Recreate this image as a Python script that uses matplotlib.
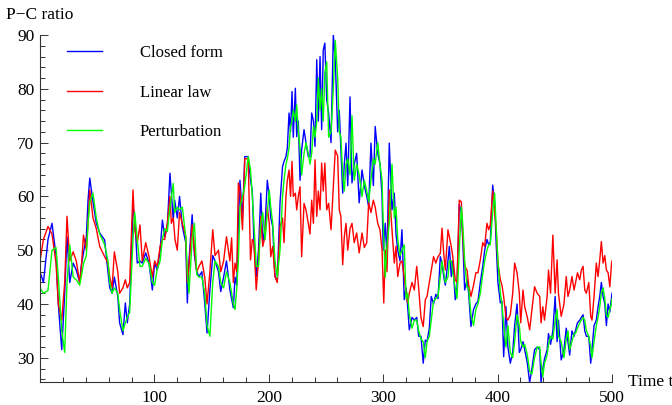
import numpy as np
import matplotlib
matplotlib.use('Agg')
import matplotlib.pyplot as plt
import matplotlib.ticker as ticker

# time samples for the closed form and perturbation curves
t_cf = [0, 3, 7, 10.5, 14, 16, 19, 21.6, 23.6, 26, 29, 31.7, 34.7, 36, 38, 40.5, 42, 43.5, 46.3, 49.2,
        52.2, 56.5, 59.4, 61, 63, 65, 68, 69.6, 72.5, 74.6, 76.3, 78.4, 81.3, 82.8, 85, 87.4, 89.4, 92.4, 95.3, 98.2,
        100.2, 102.5, 105, 107, 109, 111.3, 113.6, 116.5, 117.7, 120, 122, 124.4, 127.4, 128.8, 130.2, 133, 135, 137, 139, 141.5,
        144, 146, 148.5, 151, 153, 156, 158, 160.5, 163, 166, 169, 170.5, 172, 173.4, 174.8, 177, 179, 182, 184, 185.6,
        187, 189, 191, 193, 194.7, 196.7, 198.7, 200.4, 201.7, 203.4, 205.4, 207.4, 209.8, 212, 213.3, 215, 216.2, 217.7, 219, 220.3,
        221.4, 223.2, 224.4, 225.8, 227.3, 228.7, 230.8, 232.5, 234.5, 236, 237.5, 239, 240.4, 241.9, 243.3, 244.8, 246.2, 247.6, 249, 250.6,
        252.3, 254.4, 256.4, 258.1, 260.2, 261.6, 263, 264.6, 266, 267.5, 269, 271, 272.7, 274.7, 276.8, 279, 281.5, 283.5, 285.6, 287.3,
        289.3, 291.4, 293, 295.2, 297.2, 299, 300, 301.8, 303.3, 305.3, 307.7, 309.7, 311.2, 312.7, 314.7, 316.4, 318.4, 320, 321.4, 322.8,
        325.2, 327.2, 329.3, 331, 333, 335, 336.8, 338.3, 340.3, 342, 344, 346, 347.9, 349.9, 351.4, 352.9, 354.3, 356.6, 357.8, 359.5,
        360.7, 363, 364.5, 366.5, 368.3, 369.5, 371.2, 373.3, 374.7, 376.7, 379, 381, 382.8, 384.9, 387, 388.7, 390.7, 392.2, 393.6, 395.7,
        397.4, 398.6, 400.3, 402.4, 403.8, 405.3, 407.3, 409, 411.1, 413.2, 414.9, 417, 419, 420.2, 422.2, 423.7, 426, 428, 430, 432.3,
        434.6, 436.8, 438, 439.5, 441, 443.3, 444.5, 446.3, 448.3, 450.3, 452, 453.2, 455.6, 458, 460, 461.5, 463, 465, 466.8, 468,
        469.8, 471.8, 473.2, 474.7, 476.2, 477.6, 479.7, 481.4, 482.5, 484.3, 486.3, 487.8, 489.3, 490.7, 492.2, 493.7, 495.1, 496.6, 498.1, 499.6,
        500]

closed_form = [46, 44, 52, 55, 49, 40, 31.5, 42, 52.5, 44, 47.6, 46.3, 44, 47, 49.5, 52.5, 59.3, 63.4, 59, 55,
               53.2, 51.9, 46, 43, 42, 45, 41.4, 36.5, 34.3, 40.2, 36.5, 40, 58, 56, 47.6, 48, 47.6, 49.5, 47.6, 42.6,
               47.6, 46.3, 50, 55.6, 52.5, 54.4, 64.3, 55.6, 59.3, 56, 60, 54.4, 51.4, 40.2, 48, 56.6, 49, 46, 45.1, 46,
               40.2, 34.6, 42.6, 49, 48, 46, 42.3, 45, 48, 42.6, 39.3, 45, 43.5, 55, 63, 56, 67.4, 67.4, 63, 61,
               51.4, 45.1, 50, 60.6, 51.4, 54.4, 63, 60, 56, 54.4, 45.1, 44.2, 58.8, 65.5, 66.5, 67.4, 69, 75.5, 72, 79.5,
               71, 80.1, 71.1, 74, 63, 68.6, 72.4, 70, 67.4, 67.4, 75.5, 74, 69.3, 85.4, 74, 86, 72.4, 87.2, 88.5, 78,
               75.5, 70, 90, 85.5, 72, 76, 68.6, 60.6, 66, 69.9, 62, 78.5, 62.5, 66, 68, 58.8, 64.9, 62, 60, 58.1,
               69.9, 62, 73, 68, 66, 60, 50, 55, 48.5, 69.9, 57.5, 60.6, 53, 50, 48, 53.8, 40.8, 43, 39.5, 35.2,
               37.5, 37, 37.5, 34, 34, 29, 33.3, 33, 35.5, 41.4, 40, 41.8, 41, 48.8, 47.6, 45.1, 43.5, 48, 50.7, 45.1,
               48, 40.8, 43, 58.5, 57, 52, 42.6, 44.5, 42, 35.8, 39, 40, 40.5, 44, 47, 50, 52, 51, 51.5, 62.1,
               59, 52, 44, 40.2, 40.5, 30.2, 39.5, 32, 29, 31, 36, 40, 31, 31.5, 33, 31.5, 29, 25.4, 28, 31.5,
               32, 31.5, 25.4, 28, 29.8, 31.5, 34.5, 32.5, 35, 41.4, 33, 37, 29.6, 31.5, 35.5, 33, 30.5, 35, 34, 35,
               36.5, 37, 37.5, 38, 35, 34, 34, 29, 31.5, 36, 37, 39.5, 41.4, 44, 41.4, 40, 36, 40, 38.5, 41.4,
               42]

perturbation = [43, 42, 42.5, 50, 50.5, 45, 35, 31, 44, 51, 45, 44.5, 43.5, 45, 47.5, 49, 55, 59, 60.6, 56,
                53, 51, 48, 44, 42, 43, 42, 39, 35, 36.5, 37.5, 38.5, 52, 57, 52, 47, 47, 48.5, 47.5, 44,
                43.5, 46.5, 48, 52, 54, 53.5, 58, 62.4, 57, 58, 57.5, 58, 52.5, 46, 42, 52, 55, 45.5, 45, 45,
                42, 36, 34, 44, 48, 47, 44, 43, 46, 44, 40, 39, 43, 48, 58, 60, 62, 67.4, 65, 60,
                55, 47, 47, 55, 57, 52, 57, 61.2, 58, 55, 48, 45, 50, 60, 63, 66, 67, 69, 73, 74,
                76, 74, 77, 72, 69, 64, 68, 70, 68, 66, 68, 73, 71, 74, 82, 76, 80, 74, 83, 85,
                71, 72, 80, 89, 82, 72, 71, 64, 61, 66, 67, 64, 75, 63, 66, 64, 60, 63, 61, 59,
                63, 67, 66, 70, 66, 63, 55, 45, 51, 55, 66, 56, 58, 52, 49, 50, 51, 41, 42, 38,
                35.5, 37, 37, 35, 33.5, 33, 30, 33, 34, 37, 40.5, 41, 41.5, 45, 48, 46, 44, 45, 48, 48,
                46, 43, 41, 50, 58, 55, 48, 43, 43, 38, 36, 39, 40, 42, 45.5, 48, 50, 51, 51, 57,
                60.6, 55, 48, 42, 40, 36, 32, 36, 31, 30, 33, 38, 36, 33, 32, 32.5, 30.5, 27.5, 27, 30,
                32, 32, 29, 26.5, 29, 30.5, 32.5, 34, 33.5, 37, 39, 34, 33, 30, 33.5, 35, 31.5, 33, 34.5, 34.5,
                35.5, 36.5, 37, 37.5, 37, 35, 34, 32, 30, 33, 36, 37.5, 39.5, 42, 43, 41, 38, 37.5, 39, 40,
                41]

# time samples for the linear law curve
t_lin = [0, 3, 7, 10.5, 14, 16, 19, 21.6, 23.6, 26, 29, 31.7, 34.7, 36, 38, 40.5, 42, 43.5, 46.3, 49.2,
         52.2, 56.5, 59.4, 61, 63, 65, 68, 69.6, 72.5, 74.6, 76.3, 78.4, 81.3, 82.8, 85, 87.4, 89.4, 92.4, 95.3, 98.2,
         100.2, 102.5, 105, 107, 109, 111.3, 113.6, 114.8, 116.5, 118, 120, 122, 124.4, 127.4, 128.8, 130.2, 133, 135, 137, 139,
         141.5, 144, 146, 148.5, 151, 153, 156, 158, 160.5, 163, 166, 167.5, 169, 170.5, 172, 173.4, 174.8, 177, 179, 182,
         184, 185.6, 187, 189, 191, 193, 194.7, 196.7, 198.7, 200.4, 201.7, 203.4, 205.4, 207.4, 209.8, 212, 213.3, 215, 216.2, 217.7,
         219, 220.3, 221.4, 223.2, 224.4, 225.8, 227.3, 228.7, 230.8, 232.5, 234.5, 236, 237.5, 239, 240.4, 241.9, 243.3, 244.8, 246.2, 247.6,
         249, 250.6, 252.3, 254.4, 256.4, 258.1, 260.2, 261.6, 263, 264.6, 266, 267.5, 269, 271, 272.7, 274.7, 276.8, 279, 281.5, 283.5,
         285.6, 287.3, 289.3, 291.4, 293, 295.2, 297.2, 299, 300.5, 301.8, 303.3, 305.3, 307.7, 309.7, 311.2, 312.7, 314.7, 316.4, 318.4, 320,
         321.4, 322.8, 325.2, 327.2, 329.3, 331, 333, 335, 336.8, 338.3, 340.3, 342, 344, 346, 347.9, 349.9, 351.4, 352.9, 354.3, 356.6,
         359.5, 360.7, 363, 364.5, 366.5, 368.3, 369.5, 371.2, 373.3, 374.7, 376.7, 379, 381, 382.8, 384.9, 387, 388.7, 390.7, 392.2, 393.6,
         395.7, 397.4, 398.6, 400.3, 402.4, 403.8, 405.3, 407.3, 409, 411.1, 413.2, 414.9, 417, 419, 420.2, 422.2, 423.7, 426, 428, 430,
         432.3, 434.6, 436.8, 438, 439.5, 441, 443.3, 444.5, 446.3, 448.3, 450.3, 452, 453.2, 455.6, 458, 460, 461.5, 463, 465, 466.8,
         468, 469.8, 471.8, 473.2, 474.7, 476.2, 477.6, 479.7, 481.4, 482.5, 484.3, 486.3, 487.8, 489.3, 490.7, 492.2, 493.7, 495.1, 496.6, 498.1,
         499.6, 500]

linear_law = [48, 52, 54.4, 53, 47.6, 40, 37, 44, 56.3, 48, 49.7, 48, 44, 46.3, 52.8, 50, 55, 61.2, 56, 54,
              50.7, 48.8, 47.6, 45, 43, 49.7, 46, 42, 43, 44.5, 43, 44, 61.2, 54, 51.4, 54.7, 48, 51.4, 48.8, 45,
              48, 47, 50.7, 52, 52, 55, 60, 55, 56, 52, 50, 57, 55, 52.5, 44, 47, 54.7, 50, 46, 47,
              48, 45, 40, 46, 53.8, 49, 50, 46, 48, 52.5, 48, 52.3, 44, 47.6, 46, 62.5, 61, 53.8, 67, 67,
              48.2, 52, 51.4, 42.6, 48, 56.3, 50.7, 52.5, 58, 55, 48.8, 50.7, 45.1, 44, 54.4, 56, 51.4, 60, 63, 64.9,
              60, 66.5, 60, 60.6, 57.5, 60, 61.8, 48.8, 58.7, 57.5, 55, 53, 59.3, 55, 66.8, 56.3, 61, 57.5, 66.2, 61,
              66.2, 57.5, 58.7, 53.8, 62, 68.6, 67.5, 57.5, 56.3, 47.3, 52.5, 55, 50, 54, 55, 51.4, 53.2, 49.5, 53.2, 50.5,
              51.4, 58.8, 57, 59.3, 58, 55, 53.8, 50, 40.2, 50, 46, 61.2, 53.8, 47.6, 50.7, 45.1, 47.6, 48, 45, 42,
              40.2, 42, 44, 42.6, 47, 43, 37.5, 35.8, 40.8, 41.4, 44, 46.3, 48.8, 47.6, 48.8, 49.4, 54.1, 49.4, 46.3, 53.8,
              50.7, 49, 44.5, 44, 59.3, 59, 53, 47, 46.3, 43.5, 41.4, 43.5, 45.8, 45.8, 48.2, 51.4, 50.7, 55, 53.8, 54.7,
              61, 57, 54.4, 47.6, 44.5, 43.5, 41.4, 37.5, 37, 38, 42, 47.6, 45.8, 42, 36.5, 42.6, 39.5, 37.5, 35.2, 39,
              43.2, 42, 41.4, 36.5, 39.5, 37, 41.4, 46.3, 42, 52.8, 42, 48.2, 42, 37.7, 40, 45.1, 41.4, 42.6, 45.1, 42.6,
              43.8, 45.8, 44.5, 46.3, 47, 42.6, 42, 44, 37.7, 37, 41.4, 47.6, 45.1, 48.2, 51.6, 47.6, 49, 46.3, 45.8, 43.2,
              47.6, 48]

series_labels = ['Closed form', 'Linear law', 'Perturbation']
x_ticks = [100, 200, 300, 400, 500]
y_ticks = [30, 40, 50, 60, 70, 80, 90]

assert len(t_cf) == len(closed_form) == len(perturbation)
assert len(t_lin) == len(linear_law)

plt.rcParams['font.family'] = ['Liberation Serif', 'DejaVu Serif']

W, H = 672, 405
fig = plt.figure(figsize=(W / 100, H / 100), dpi=100)
ax = fig.add_axes([40 / W, 1 - 382 / H, (612 - 40) / W, (382 - 35) / H])

ax.plot(t_cf, closed_form, color='#0000ff', lw=1.0, label=series_labels[0])
ax.plot(t_lin, linear_law, color='#ff0000', lw=1.0, label=series_labels[1])
ax.plot(t_cf, perturbation, color='#00ff00', lw=1.0, label=series_labels[2])

ax.set_xlim(0, 500)
ax.set_ylim(25.5, 90)

for s in ['top', 'right']:
  ax.spines[s].set_visible(False)
for s in ['left', 'bottom']:
  ax.spines[s].set_color('#333333')
  ax.spines[s].set_linewidth(0.8)

ax.set_xticks(x_ticks)
ax.set_yticks(y_ticks)
ax.xaxis.set_minor_locator(ticker.MultipleLocator(20))
ax.yaxis.set_minor_locator(ticker.MultipleLocator(2))
ax.tick_params(which='both', direction='in', color='#333333', width=0.7, labelsize=12.5)
ax.tick_params(which='major', length=6)
ax.tick_params(which='minor', length=3.5)
ax.tick_params(axis='x', pad=6)
ax.tick_params(axis='y', pad=4)

fig.text(40 / W, 1 - 15 / H, 'P\u2212C ratio', ha='center', va='center', fontsize=12.5)
fig.text(628 / W, 1 - 382 / H, 'Time t', ha='left', va='center', fontsize=12.5)

leg = ax.legend(loc='upper left', bbox_to_anchor=(67 / W, 1 - 45 / H), bbox_transform=fig.transFigure,
                frameon=False, fontsize=12, handlelength=2.1, handletextpad=2.25,
                labelspacing=1.42, borderpad=0, borderaxespad=0)

fig.savefig('out.png', dpi=100)
